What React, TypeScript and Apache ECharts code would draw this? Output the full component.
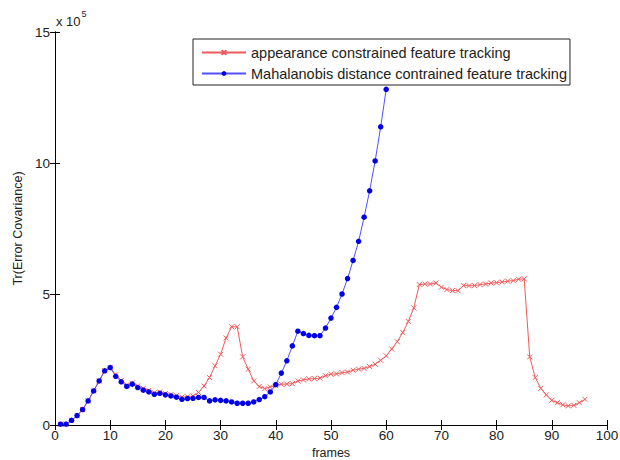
import React, { useEffect, useRef } from "react";
import * as echarts from "echarts";

// values in units of 10^5
const blueValues = [
  0.03, 0.03, 0.18, 0.36, 0.59, 0.92, 1.3, 1.68, 2.07, 2.19,
  1.86, 1.65, 1.47, 1.56, 1.43, 1.33, 1.26, 1.17, 1.21, 1.15,
  1.11, 1.06, 0.98, 1.01, 1.02, 1.05, 1.05, 0.92, 0.96, 0.94,
  0.92, 0.88, 0.83, 0.83, 0.83, 0.88, 0.97, 1.08, 1.26, 1.54,
  1.98, 2.45, 3.02, 3.58, 3.49, 3.42, 3.41, 3.41, 3.7, 4.08,
  4.49, 5.0, 5.59, 6.28, 7.01, 7.93, 8.94, 10.08, 11.38, 12.81,
];

const redValues = [
  0.03, 0.03, 0.18, 0.36, 0.59, 0.92, 1.3, 1.68, 2.07, 2.19,
  1.92, 1.7, 1.53, 1.6, 1.49, 1.4, 1.32, 1.23, 1.26, 1.2,
  1.16, 1.12, 1.06, 1.08, 1.11, 1.24, 1.49, 1.81, 2.26, 2.7,
  3.32, 3.75, 3.75, 2.6, 2.13, 1.68, 1.47, 1.39, 1.45, 1.5,
  1.56, 1.56, 1.58, 1.68, 1.72, 1.76, 1.77, 1.79, 1.88, 1.94,
  1.95, 2.0, 2.02, 2.09, 2.13, 2.16, 2.23, 2.32, 2.47, 2.64,
  2.9, 3.18, 3.53, 3.95, 4.47, 5.36, 5.38, 5.38, 5.42, 5.26,
  5.17, 5.13, 5.13, 5.32, 5.32, 5.32, 5.36, 5.38, 5.42, 5.43,
  5.46, 5.49, 5.51, 5.56, 5.58, 2.6, 1.81, 1.4, 1.15, 0.94,
  0.85, 0.77, 0.73, 0.75, 0.85, 0.98,
];

const seriesNames = [
  "appearance constrained feature tracking",
  "Mahalanobis distance contrained feature tracking",
];

const xTicks = { min: 0, max: 100, interval: 10 };
const yTicks = { min: 0, max: 15, interval: 5 };

const FONT = "'Liberation Sans', Arial, sans-serif";
const TEXT_COLOR = "#222";

export default function App() {
  const ref = useRef<HTMLDivElement>(null);
  useEffect(() => {
    if (!ref.current) return;
    const chart = echarts.init(ref.current, null, { renderer: "svg" });
    const toPairs = (vals: number[]) => vals.map((v, i) => [i + 1, v]);
    const axisLine = { show: true, lineStyle: { color: "#000", width: 1 } };
    const tick = { show: true, inside: true, length: 5, lineStyle: { color: "#000" } };
    chart.setOption({
      animation: false,
      backgroundColor: "#fff",
      textStyle: { fontFamily: FONT },
      grid: {
        left: 55,
        right: 13,
        top: 32,
        bottom: 35,
        containLabel: false,
        outerBoundsMode: "none",
      },
      xAxis: [
        {
          type: "value",
          ...xTicks,
          position: "bottom",
          axisLine,
          axisTick: tick,
          splitLine: { show: false },
          axisLabel: { fontSize: 13.5, color: TEXT_COLOR, margin: 3, fontFamily: FONT },
          name: "frames",
          nameLocation: "middle",
          nameGap: 19,
          nameTextStyle: { fontSize: 12.5, color: TEXT_COLOR, fontFamily: FONT },
        },
        {
          type: "value",
          ...xTicks,
          position: "top",
          axisLine,
          axisTick: tick,
          splitLine: { show: false },
          axisLabel: { show: false },
        },
      ],
      yAxis: [
        {
          type: "value",
          ...yTicks,
          position: "left",
          axisLine,
          axisTick: tick,
          splitLine: { show: false },
          axisLabel: { fontSize: 13.5, color: TEXT_COLOR, margin: 5, fontFamily: FONT },
          name: "Tr(Error Covariance)",
          nameLocation: "middle",
          nameGap: 27,
          nameTextStyle: { fontSize: 12.5, color: TEXT_COLOR, fontFamily: FONT },
        },
        {
          type: "value",
          ...yTicks,
          position: "right",
          axisLine,
          axisTick: tick,
          splitLine: { show: false },
          axisLabel: { show: false },
        },
      ],
      legend: {
        orient: "vertical",
        left: 193,
        top: 39,
        padding: [5, 3, 3, 8],
        itemGap: 4,
        itemWidth: 44,
        itemHeight: 6,
        borderColor: "#222",
        borderWidth: 1,
        backgroundColor: "#fff",
        textStyle: { fontSize: 14.5, lineHeight: 17, color: TEXT_COLOR, fontFamily: FONT },
        data: seriesNames,
      },
      graphic: [
        {
          type: "text",
          left: 56,
          top: 9,
          style: {
            text: "{a|x 10}{b|5}",
            rich: {
              a: { fontSize: 13, fill: TEXT_COLOR, fontFamily: FONT, verticalAlign: "bottom", padding: [6, 0, 0, 0] },
              b: { fontSize: 9, fill: TEXT_COLOR, fontFamily: FONT, verticalAlign: "top", padding: [0, 0, 8, 1] },
            },
          },
        },
      ],
      series: [
        {
          name: seriesNames[0],
          type: "line",
          xAxisIndex: 0,
          yAxisIndex: 0,
          data: toPairs(redValues),
          symbol: "path://M0,0L10,10M10,0L0,10",
          symbolSize: 5,
          symbolKeepAspect: true,
          showAllSymbol: true,
          lineStyle: { color: "#f05a5a", width: 1 },
          itemStyle: { color: "#f05a5a", borderColor: "#f05a5a", borderWidth: 1 },
          emphasis: { disabled: true },
        },
        {
          name: seriesNames[1],
          type: "line",
          xAxisIndex: 0,
          yAxisIndex: 0,
          data: toPairs(blueValues),
          symbol: "circle",
          symbolSize: 5.5,
          showAllSymbol: true,
          lineStyle: { color: "#5050ff", width: 1 },
          itemStyle: { color: "#0000e6" },
          emphasis: { disabled: true },
        },
      ],
    });
    return () => chart.dispose();
  }, []);
  return (
    <div
      ref={ref}
      style={{ position: "fixed", left: 0, top: 0, width: 620, height: 460, background: "#fff" }}
    />
  );
}
